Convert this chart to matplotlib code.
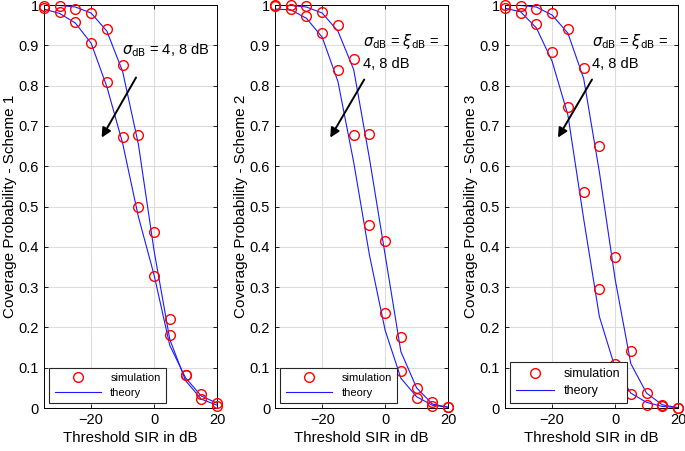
import matplotlib
matplotlib.use("Agg")
import matplotlib.pyplot as plt
import numpy as np

plt.rcParams['font.family'] = ['Liberation Sans', 'DejaVu Sans']
plt.rcParams['mathtext.fontset'] = 'dejavusans'

# threshold SIR (dB)
sir = [-35, -30, -25, -20, -15, -10, -5, 0, 5, 10, 15, 20]

# Scheme 1
sim1_4 = [0.997, 0.997, 0.99, 0.98, 0.94, 0.852, 0.677, 0.437, 0.22, 0.081, 0.035, 0.013]
sim1_8 = [0.993, 0.983, 0.958, 0.905, 0.81, 0.673, 0.50, 0.328, 0.181, 0.082, 0.023, 0.006]
th1_4 = [1.0, 0.999, 0.995, 0.98, 0.935, 0.835, 0.655, 0.39, 0.17, 0.068, 0.022, 0.007]
th1_8 = [0.99, 0.979, 0.955, 0.905, 0.797, 0.657, 0.475, 0.33, 0.155, 0.075, 0.03, 0.012]

# Scheme 2
sim2_4 = [1.0, 0.999, 0.997, 0.983, 0.95, 0.865, 0.68, 0.415, 0.175, 0.05, 0.016, 0.003]
sim2_8 = [0.997, 0.99, 0.973, 0.931, 0.838, 0.677, 0.454, 0.237, 0.093, 0.026, 0.006, 0.003]
th2_4 = [1.0, 0.999, 0.995, 0.98, 0.935, 0.84, 0.62, 0.38, 0.14, 0.05, 0.01, 0.002]
th2_8 = [0.99, 0.988, 0.967, 0.92, 0.81, 0.61, 0.38, 0.193, 0.074, 0.028, 0.007, 0.002]

# Scheme 3
sim3_4 = [1.0, 0.998, 0.99, 0.98, 0.94, 0.843, 0.65, 0.374, 0.141, 0.038, 0.007, 0.001]
sim3_8 = [0.993, 0.98, 0.952, 0.884, 0.747, 0.535, 0.295, 0.11, 0.035, 0.008, 0.004, 0.001]
th3_4 = [1.0, 0.999, 0.995, 0.975, 0.93, 0.818, 0.586, 0.32, 0.11, 0.037, 0.008, 0.001]
th3_8 = [0.992, 0.983, 0.943, 0.86, 0.727, 0.47, 0.227, 0.10, 0.037, 0.014, 0.004, 0.001]

panels = [
    (sim1_4, sim1_8, th1_4, th1_8, 'Coverage Probability - Scheme 1'),
    (sim2_4, sim2_8, th2_4, th2_8, 'Coverage Probability - Scheme 2'),
    (sim3_4, sim3_8, th3_4, th3_8, 'Coverage Probability - Scheme 3'),
]
lefts = [0.0642, 0.4015, 0.7372]
notes = [r'$\sigma_{\rm dB}$ = 4, 8 dB',
         r'$\sigma_{\rm dB}$ = $\xi_{\rm dB}$ =' + '\n4, 8 dB',
         r'$\sigma_{\rm dB}$ = $\xi_{\rm dB}$ =' + '\n4, 8 dB']
note_xy = [(-10.2, 0.889), (-7.0, 0.885), (-7.2, 0.885)]
arrow_from = [(-5.3, 0.826), (-6.2, 0.821), (-6.9, 0.821)]
arrow_to = [(-17.1, 0.665), (-17.9, 0.665), (-18.6, 0.665)]
leg_fs = [8, 8, 9]
leg_hl = [4.2, 4.2, 3.0]

fig = plt.figure(figsize=(6.85, 4.51), dpi=100)

for i, (s4, s8, t4, t8, ylab) in enumerate(panels):
    ax = fig.add_axes([lefts[i], 0.0953, 0.2526, 0.8936])
    ax.plot(sir, s4, 'o', mfc='none', mec='red', ms=7, mew=1.0, label='simulation', clip_on=False, zorder=4)
    ax.plot(sir, t4, '-', color='#1a1aff', lw=0.8, label='theory')
    ax.plot(sir, s8, 'o', mfc='none', mec='red', ms=7, mew=1.0, clip_on=False, zorder=4)
    ax.plot(sir, t8, '-', color='#1a1aff', lw=0.8)

    ax.set_xlim(-35, 20)
    ax.set_ylim(0, 1)
    ax.set_xticks([-20, 0, 20])
    ax.set_yticks(np.arange(0, 1.01, 0.1))
    ax.set_yticklabels(['0', '0.1', '0.2', '0.3', '0.4', '0.5', '0.6', '0.7', '0.8', '0.9', '1'])
    ax.grid(True, color='#dcdcdc', lw=0.8)
    ax.set_axisbelow(True)
    ax.tick_params(direction='in', top=True, right=True, labelsize=10.5, length=3, width=0.6)
    for sp in ax.spines.values():
        sp.set_linewidth(0.7)
    ax.set_xlabel('Threshold SIR in dB', fontsize=10.8, labelpad=3)
    ax.set_ylabel(ylab, fontsize=11, labelpad=1)

    ax.text(note_xy[i][0], note_xy[i][1], notes[i], fontsize=10.5, ha='left', va='center',
            linespacing=1.6)
    ax.annotate('', xy=arrow_to[i], xytext=arrow_from[i],
                arrowprops=dict(arrowstyle='-|>', color='k', lw=1.4, mutation_scale=14))

    leg = ax.legend(loc='lower left', bbox_to_anchor=(0.03, 0.012), borderaxespad=0,
                    fontsize=leg_fs[i], handlelength=leg_hl[i], fancybox=False,
                    edgecolor='#262626', framealpha=1, borderpad=0.5, labelspacing=0.4)
    leg.get_frame().set_linewidth(0.8)
    leg.set_zorder(5)

fig.savefig('out.png', dpi=100)
